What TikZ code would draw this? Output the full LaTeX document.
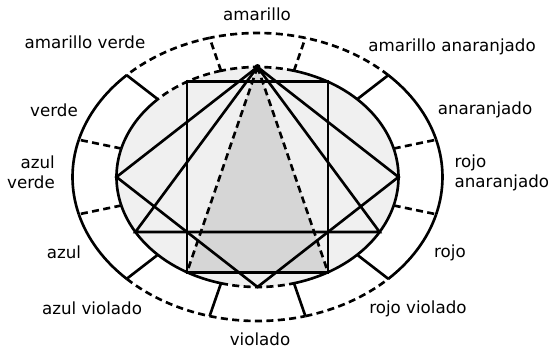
\documentclass[tikz,border=0pt]{standalone}
\usepackage{fontspec}
\setmainfont{DejaVu Sans}
\tikzset{dsh/.style={dash pattern=on 4pt off 2.5pt}}
\begin{document}
\begin{tikzpicture}[x=0.02cm,y=0.02cm,line width=1.5pt,font=\fontsize{9.5}{11.5}\selectfont]
 \useasboundingbox (-257.5,-172) rectangle (293.5,177);
 % points on the inner ellipse
 \path 	(90:141 and 110) 	coordinate (am)
 	(60:141 and 110) 	coordinate (amn)
 	(120:141 and 110) 	coordinate (amv)
 	(0:141 and 110) 	coordinate (ran)
 	(330:141 and 110) 	coordinate (ro)
 	(300:141 and 110) 	coordinate (rv)
 	(270:141 and 110) 	coordinate (vi)
 	(240:141 and 110) 	coordinate (av)
 	(210:141 and 110) 	coordinate (az)
 	(180:141 and 110) 	coordinate (azv);
 \fill[black!6] (0,0) ellipse [x radius=141, y radius=110];
 \fill[black!16] (am) -- (av) -- (rv) -- cycle;
 % ring
 \foreach \a/\s in {75/dsh,105/dsh,135/solid,165/solid,195/solid,225/dsh,255/dsh,285/dsh,315/solid,345/solid,15/solid,45/dsh}
  \draw[\s] (\a:185 and 144) arc[start angle=\a, delta angle=30, x radius=185, y radius=144];
 \foreach \a/\s in {75/dsh,105/dsh,135/solid,165/solid,195/solid,225/solid,255/dsh,285/solid,315/solid,345/solid,15/solid,45/solid}
  \draw[\s] (\a:141 and 110) arc[start angle=\a, delta angle=30, x radius=141, y radius=110];
 \foreach \a/\s in {105/dsh,135/solid,165/dsh,195/dsh,225/solid,255/solid,285/solid,315/solid,345/dsh,15/dsh,45/solid,75/dsh}
  \draw[\s] (\a:141 and 110) -- (\a:185 and 144);
 % figures
 \draw (amv) rectangle (rv);
 \draw (am) -- (azv) -- (vi) -- (ran) -- cycle;
 \draw (am) -- (az) -- (ro) -- cycle;
 \draw[dsh] (am) -- (av) (am) -- (rv);
 \fill (am) circle (3);
 % labels
 \path 	(-0.5,163) 	node (amarillo) {amarillo}
 	(-172.5,135) 	node (amarilloverde) {amarillo verde}
 	(194.5,130) 	node (amarilloanaranjado) {amarillo anaranjado}
 	(227.5,67) 	node (anaranjado) {anaranjado}
 	(190,4) 	node[anchor=west,align=left] (rojoanaranjado) {rojo\\anaranjado}
 	(-195.5,5) 	node[anchor=east,align=right] (azulverde) {azul\\verde}
 	(-203.5,67) 	node (verde) {verde}
 	(-193.5,-75) 	node (azul) {azul}
 	(-165.5,-131) 	node (azulviolado) {azul violado}
 	(2.5,-162) 	node (violado) {violado}
 	(160.5,-132) 	node (rojoviolado) {rojo violado}
 	(192.5,-76) 	node (rojo) {rojo};
\end{tikzpicture}
\end{document}
